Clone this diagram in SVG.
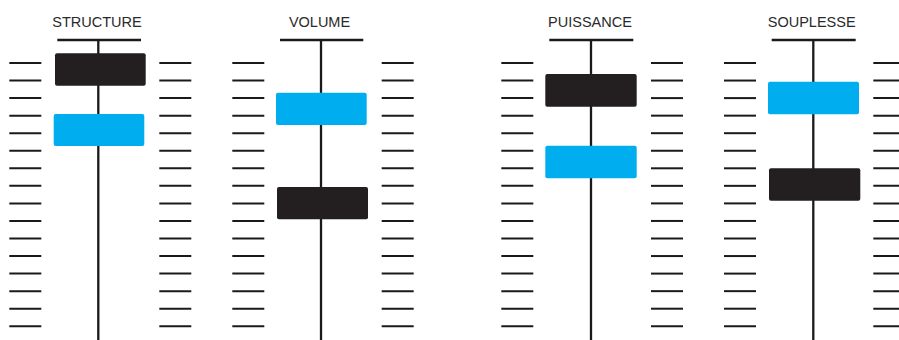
<svg xmlns="http://www.w3.org/2000/svg" width="899" height="340" viewBox="0 0 899 340">
<style>
.bg{fill:#ffffff}
.t{font-family:"Liberation Sans",Arial,sans-serif;font-size:14.5px;fill:#2a2a2a;text-anchor:middle}
.tick{stroke:#1a1a1a;stroke-width:2}
.axis{stroke:#1a1a1a;stroke-width:2.3}
.top{stroke:#1a1a1a;stroke-width:2.3}
.dark{fill:#231f20}
.blue{fill:#00aeef}
</style>
<defs>
<g id="ticksL">
<line class="tick" x1="0" y1="63" x2="32" y2="63"/>
<line class="tick" x1="0" y1="80.55" x2="32" y2="80.55"/>
<line class="tick" x1="0" y1="98.1" x2="32" y2="98.1"/>
<line class="tick" x1="0" y1="115.65" x2="32" y2="115.65"/>
<line class="tick" x1="0" y1="133.2" x2="32" y2="133.2"/>
<line class="tick" x1="0" y1="150.75" x2="32" y2="150.75"/>
<line class="tick" x1="0" y1="168.3" x2="32" y2="168.3"/>
<line class="tick" x1="0" y1="185.85" x2="32" y2="185.85"/>
<line class="tick" x1="0" y1="203.4" x2="32" y2="203.4"/>
<line class="tick" x1="0" y1="220.95" x2="32" y2="220.95"/>
<line class="tick" x1="0" y1="238.5" x2="32" y2="238.5"/>
<line class="tick" x1="0" y1="256.05" x2="32" y2="256.05"/>
<line class="tick" x1="0" y1="273.6" x2="32" y2="273.6"/>
<line class="tick" x1="0" y1="291.15" x2="32" y2="291.15"/>
<line class="tick" x1="0" y1="308.7" x2="32" y2="308.7"/>
<line class="tick" x1="0" y1="326.25" x2="32" y2="326.25"/>
</g>
</defs>
<rect class="bg" x="0" y="0" width="899" height="340"/>

<g id="slider-structure">
<text class="t" x="97" y="26.5">STRUCTURE</text>
<use href="#ticksL" x="9.3"/>
<use href="#ticksL" x="159.3"/>
<line class="top" x1="57.3" y1="40" x2="141" y2="40"/>
<line class="axis" x1="98.3" y1="40" x2="98.3" y2="340"/>
<rect class="dark" x="55" y="53.3" width="90.7" height="32.4" rx="2"/>
<rect class="blue" x="53.7" y="114" width="90.6" height="32" rx="2"/>
</g>

<g id="slider-volume">
<text class="t" x="319.5" y="26.5">VOLUME</text>
<use href="#ticksL" x="232.3"/>
<use href="#ticksL" x="381.7"/>
<line class="top" x1="280" y1="40" x2="363.3" y2="40"/>
<line class="axis" x1="321" y1="40" x2="321" y2="340"/>
<rect class="blue" x="276" y="92.7" width="90.7" height="32.3" rx="2"/>
<rect class="dark" x="277" y="187" width="91" height="32.3" rx="2"/>
</g>

<g id="slider-puissance">
<text class="t" x="590" y="26.5">PUISSANCE</text>
<use href="#ticksL" x="501.3"/>
<use href="#ticksL" x="651"/>
<line class="top" x1="549.3" y1="40" x2="633.3" y2="40"/>
<line class="axis" x1="591" y1="40" x2="591" y2="340"/>
<rect class="dark" x="545.3" y="74" width="91.4" height="32.7" rx="2"/>
<rect class="blue" x="545.3" y="145.7" width="91.4" height="32.6" rx="2"/>
</g>

<g id="slider-souplesse">
<text class="t" x="811.7" y="26.5">SOUPLESSE</text>
<use href="#ticksL" x="724"/>
<use href="#ticksL" x="873.3"/>
<line class="top" x1="771.7" y1="40" x2="855.7" y2="40"/>
<line class="axis" x1="813.3" y1="40" x2="813.3" y2="340"/>
<rect class="blue" x="768" y="81.7" width="91" height="32.6" rx="2"/>
<rect class="dark" x="769" y="168.3" width="91.3" height="32.4" rx="2"/>
</g>
</svg>
